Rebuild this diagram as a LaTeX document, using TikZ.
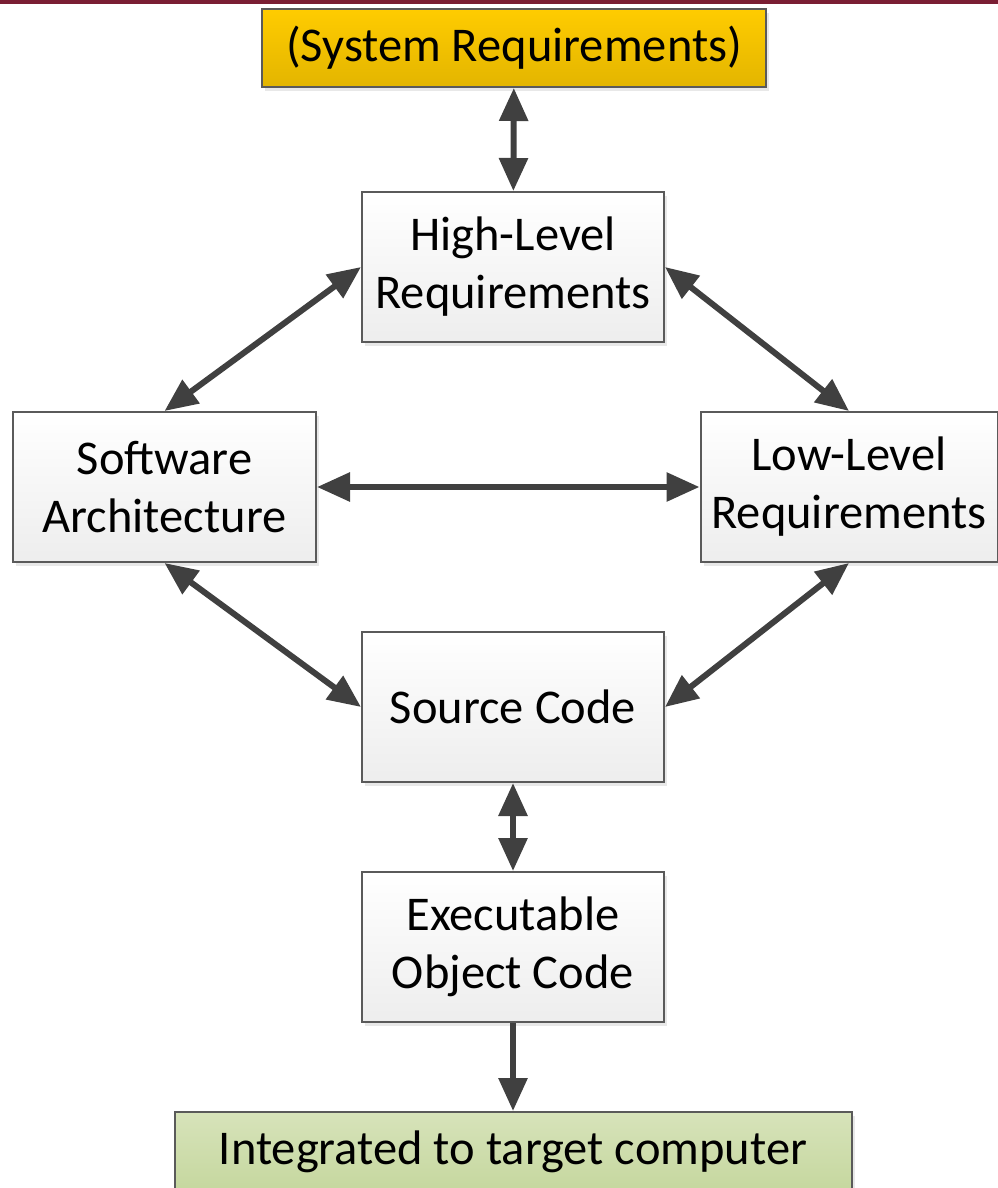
\documentclass[tikz,border=0pt]{standalone}
\usepackage{fontspec}
\setmainfont{Carlito}
\usetikzlibrary{arrows.meta,shadows}
\definecolor{barred}{HTML}{7A1E33}
\definecolor{edgegray}{HTML}{5A5A5A}
\definecolor{arrgray}{HTML}{404040}
\definecolor{goldtop}{HTML}{FFCC00}
\definecolor{goldbot}{HTML}{E3B500}
\definecolor{greentop}{HTML}{D7E3BA}
\definecolor{greenbot}{HTML}{C5D79E}
\tikzset{
    BX/.style ={rectangle,draw=edgegray,line width=2pt,align=center,inner sep=0pt,
        top color=white,bottom color=black!7,
        drop shadow={opacity=0.18,shadow xshift=3pt,shadow yshift=-4pt},
        font=\fontsize{48.5}{58}\selectfont},
    BX1/.style ={BX,minimum width=302pt,minimum height=150pt},
    BXY/.style ={BX,top color=goldtop,bottom color=goldbot,minimum width=504pt,minimum height=78pt},
    BXG/.style ={BX,top color=greentop,bottom color=greenbot,minimum width=677pt,minimum height=80pt},
    AR/.style ={draw=arrgray,line width=6pt,{Triangle[length=33pt,width=28pt]}-{Triangle[length=33pt,width=28pt]}},
    AR1/.style ={draw=arrgray,line width=6pt,-{Triangle[length=33pt,width=28pt]}}}
\begin{document}
\begin{tikzpicture}[x=1pt,y=-1pt]
        \useasboundingbox (0,0) rectangle (998,1188);
        \fill[barred] (0,0) rectangle (998,4);
        \node[BXY] (sysreq) at (514,48) {(System Requirements)};
        \node[BX1] (hlr) at (513,267) {High-Level\\Requirements};
        \node[BX1,minimum width=303pt] (arch) at (164.5,487) {Software\\Architecture};
        \node[BX1,minimum width=297pt] (llr) at (849,487) {Low-Level\\Requirements};
        \node[BX1] (src) at (513,707) {Source Code};
        \node[BX1] (obj) at (513,947) {Executable\\Object Code};
        \node[BXG] (target) at (513,1152) {Integrated to target computer};
        \draw[AR] (sysreq) -- (hlr);
        \draw[AR] (hlr.west) -- (arch.north);
        \draw[AR] (hlr.east) -- (llr.north);
        \draw[AR] (arch.east) -- (llr.west);
        \draw[AR] (arch.south) -- (src.west);
        \draw[AR] (llr.south) -- (src.east);
        \draw[AR] (src) -- (obj);
        \draw[AR1] (obj) -- (target);
    \end{tikzpicture}
\end{document}
